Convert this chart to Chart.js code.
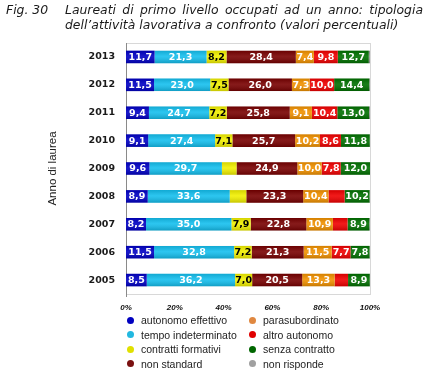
<!DOCTYPE html>
<html>
<head>
<meta charset="utf-8">
<script src="https://cdn.jsdelivr.net/npm/chart.js@4"></script>
<style>
  html,body{margin:0;padding:0;background:#fff;}
  #wrap{position:relative;width:432px;height:376px;overflow:hidden;}
  #c{position:absolute;left:0;top:0;}
  .ttl{position:absolute;font-family:"DejaVu Sans",sans-serif;font-style:italic;font-size:12.4px;color:#1a1a1a;white-space:nowrap;line-height:15px;}
  #fig{left:6px;top:2px;}
  #l1{left:65px;top:2px;width:358px;text-align:justify;text-align-last:justify;}
  #l2{left:65px;top:17px;}
  #legend{position:absolute;left:127px;top:313px;display:grid;grid-template-columns:122px 120px;grid-auto-flow:column;grid-template-rows:repeat(4,14.5px);
    font-family:"Liberation Sans",Arial,sans-serif;font-size:10.5px;color:#222;}
  #legend span{display:flex;align-items:center;white-space:nowrap;}
  #legend i{display:inline-block;width:7px;height:7px;border-radius:50%;margin-right:7px;}
</style>
</head>
<body>
<div id="wrap">
  <canvas id="c" width="432" height="376"></canvas>
  <div class="ttl" id="fig">Fig. 30</div>
  <div class="ttl" id="l1">Laureati di primo livello occupati ad un anno: tipologia</div>
  <div class="ttl" id="l2">dell’attività lavorativa a confronto (valori percentuali)</div>
  <div id="legend"></div>
</div>
<script>
(function(){
  'use strict';

  /* ── Data ── */
  const years=['2013','2012','2011','2010','2009','2008','2007','2006','2005'];
  const autonomoEffettivo  =[11.7,11.5, 9.4, 9.1, 9.6, 8.9, 8.2,11.5, 8.5];
  const tempoIndeterminato =[21.3,23.0,24.7,27.4,29.7,33.6,35.0,32.8,36.2];
  const contrattiFormativi =[ 8.2, 7.5, 7.2, 7.1, 6.0, 6.8, 7.9, 7.2, 7.0];
  const nonStandard        =[28.4,26.0,25.8,25.7,24.9,23.3,22.8,21.3,20.5];
  const parasubordinato    =[ 7.4, 7.3, 9.1,10.2,10.0,10.4,10.9,11.5,13.3];
  const altroAutonomo      =[ 9.8,10.0,10.4, 8.6, 7.8, 6.6, 6.0, 7.7, 5.5];
  const senzaContratto     =[12.7,14.4,13.0,11.8,12.0,10.2, 8.9, 7.8, 8.9];
  const nonRisponde        =[ 0.5, 0.3, 0.4, 0.1, 0.0, 0.2, 0.3, 0.2, 0.1];
  const xTicks=[0,20,40,60,80,100];

  const series=[
    {label:'autonomo effettivo',data:autonomoEffettivo,color:'#0000c4',dot:'#0000c0',ink:'#fff'},
    {label:'tempo indeterminato',data:tempoIndeterminato,color:'#14bfee',dot:'#22b8e0',ink:'#fff'},
    {label:'contratti formativi',data:contrattiFormativi,color:'#f2f000',dot:'#e0e000',ink:'#000'},
    {label:'non standard',data:nonStandard,color:'#780000',dot:'#7a1010',ink:'#fff'},
    {label:'parasubordinato',data:parasubordinato,color:'#f29200',dot:'#e08840',ink:'#fff'},
    {label:'altro autonomo',data:altroAutonomo,color:'#f00000',dot:'#e00000',ink:'#fff'},
    {label:'senza contratto',data:senzaContratto,color:'#007000',dot:'#006600',ink:'#fff'},
    {label:'non risponde',data:nonRisponde,color:'#9a9a9a',dot:'#a0a0a0',ink:'#fff'}
  ];

  /* ── Legend (two columns, column-major) ── */
  const leg=document.getElementById('legend');
  series.forEach(s=>{
    const it=document.createElement('span');
    it.innerHTML=`<i style="background:${s.dot}"></i>${s.label}`;
    leg.appendChild(it);
  });

  /* ── Plugins: frame, shading, value labels ── */
  const framePlugin={
    id:'frame',
    beforeDatasetsDraw(chart){
      const {ctx,chartArea:a}=chart;
      ctx.save();
      ctx.strokeStyle='#d8d8d8';ctx.lineWidth=1;
      ctx.strokeRect(a.left+0.5,a.top+0.5,a.right-a.left,a.bottom-a.top);
      ctx.strokeStyle='#8a8a8a';
      ctx.beginPath();ctx.moveTo(a.left+0.5,a.top);ctx.lineTo(a.left+0.5,a.bottom+3);ctx.stroke();
      ctx.restore();
    }
  };
  const labelPlugin={
    id:'vals',
    afterDatasetsDraw(chart){
      const ctx=chart.ctx;
      ctx.save();
      chart.data.datasets.forEach((ds,di)=>{
        chart.getDatasetMeta(di).data.forEach(bar=>{
          const x0=Math.min(bar.x,bar.base),w=Math.abs(bar.x-bar.base),h=bar.height,y0=bar.y-h/2;
          if(w<=0)return;
          const g=ctx.createLinearGradient(0,y0,0,y0+h);
          g.addColorStop(0,'rgba(0,0,0,0.12)');
          g.addColorStop(0.45,'rgba(255,255,255,0.10)');
          g.addColorStop(1,'rgba(0,0,0,0.18)');
          ctx.fillStyle=g;ctx.fillRect(x0,y0,w,h);
        });
      });
      ctx.font='bold 9.5px "DejaVu Sans"';
      ctx.textAlign='center';ctx.textBaseline='middle';
      chart.data.datasets.forEach((ds,di)=>{
        chart.getDatasetMeta(di).data.forEach((bar,i)=>{
          const v=ds.data[i];
          if(v<7)return;
          ctx.fillStyle=series[di].ink;
          ctx.fillText(v.toFixed(1).replace('.',','),(bar.x+bar.base)/2,bar.y+0.5);
        });
      });
      ctx.restore();
    }
  };

  /* ── Chart ── */
  new Chart(document.getElementById('c'),{
    type:'bar',
    data:{
      labels:years,
      datasets:series.map(s=>({label:s.label,data:s.data,backgroundColor:s.color,borderWidth:0,
        categoryPercentage:1,barPercentage:0.45}))
    },
    options:{
      responsive:false,animation:false,indexAxis:'y',
      layout:{padding:{left:46,top:43,right:62,bottom:62}},
      plugins:{legend:{display:false},tooltip:{enabled:false}},
      scales:{
        x:{stacked:true,min:0,max:100,
          afterBuildTicks:s=>{s.ticks=xTicks.map(v=>({value:v}));},
          afterFit:s=>{s.height=20;},
          grid:{display:false,drawTicks:false},border:{display:false},
          ticks:{callback:v=>v+'%',padding:9,maxRotation:0,color:'#111',
            font:{family:'Liberation Sans',size:8,style:'italic',weight:'bold'}}},
        y:{stacked:true,
          afterFit:s=>{s.width=80;},
          grid:{display:false,drawTicks:false},border:{display:false},
          title:{display:true,text:'Anno di laurea',color:'#222',padding:{top:0,bottom:0},
            font:{family:'Liberation Sans',size:11.5}},
          ticks:{padding:11,color:'#1a1a1a',font:{family:'DejaVu Sans',size:9.5,weight:'bold'}}}
      }
    },
    plugins:[framePlugin,labelPlugin]
  });
})();
</script>
</body>
</html>
